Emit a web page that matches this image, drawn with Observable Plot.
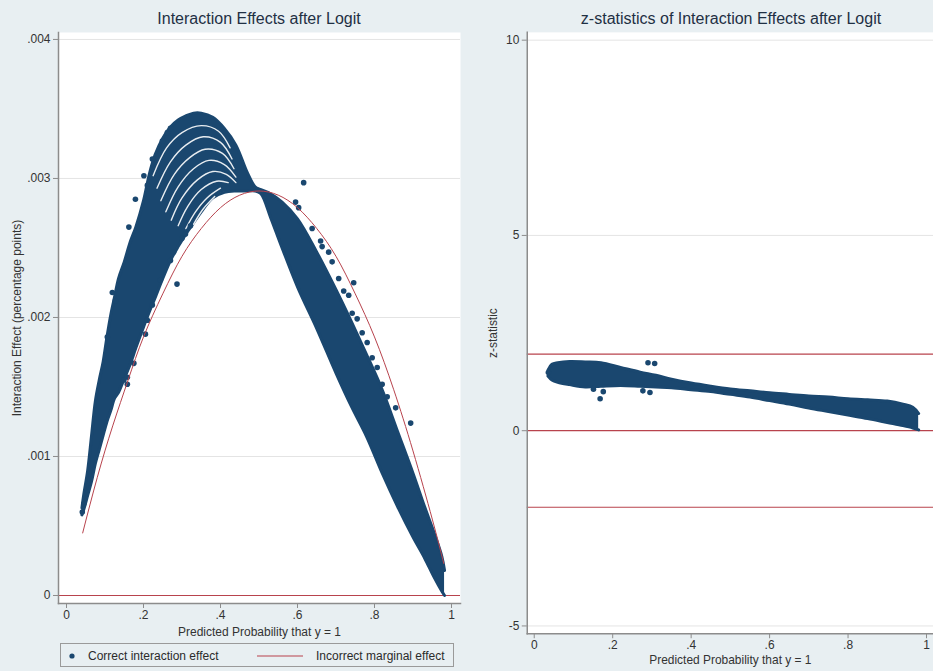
<!DOCTYPE html>
<html><head><meta charset="utf-8">
<script src="https://cdn.jsdelivr.net/npm/d3@7"></script>
<script src="https://cdn.jsdelivr.net/npm/@observablehq/plot@0.6"></script>
<style>
html,body{margin:0;padding:0}
body{width:933px;height:671px;overflow:hidden;background:#e8eff2;font-family:"Liberation Sans",Arial,sans-serif;position:relative;color:#2b2b2b}
.abs{position:absolute}
.title{font-size:16px;color:#1f3044;white-space:nowrap;transform:translateX(-50%)}
.legend{left:60px;top:643px;width:394px;height:24px;border:1px solid #9a9a9a;box-sizing:border-box;font-size:12px}
.legend span{position:absolute;top:5px;white-space:nowrap}
</style></head><body>
<div id="left" class="abs" style="left:0;top:0"></div>
<div id="right" class="abs" style="left:470px;top:0"></div>
<div class="abs title" style="left:259px;top:10px">Interaction Effects after Logit</div>
<div class="abs title" style="left:731px;top:10px">z-statistics of Interaction Effects after Logit</div>
<div class="abs legend">
  <svg class="abs" style="left:0;top:0" width="394" height="24">
    <circle cx="11" cy="12" r="2.6" fill="#1a476f"></circle>
    <line x1="196" x2="242" y1="12" y2="12" stroke="#b8434d" stroke-width="1.2"></line>
  </svg>
  <span style="left:27px">Correct interaction effect</span>
  <span style="left:255px">Incorrect marginal effect</span>
</div>
<script>
// ---------- Left panel: interaction effect (values in thousandths) ----------
const bandLX  = [0.040,0.045,0.055,0.065,0.075,0.085,0.095,0.105,0.115,0.125,0.135,0.150,0.165,0.180,0.200,0.215,0.230,0.250,0.270,0.290,0.310,0.330,0.350,0.380,0.410,0.440,0.470,0.490,0.505,0.530,0.560,0.600,0.650,0.700,0.740,0.780,0.820,0.860,0.900,0.930,0.955,0.975,0.982];
const bandLLo = [0.58,0.62,0.72,0.82,0.95,1.05,1.15,1.25,1.33,1.42,1.46,1.56,1.66,1.78,1.93,2.04,2.14,2.28,2.41,2.51,2.60,2.68,2.76,2.86,2.90,2.91,2.91,2.91,2.89,2.72,2.50,2.22,1.92,1.60,1.36,1.14,0.88,0.64,0.42,0.27,0.13,0.03,0.00];
const bandLHi = [0.63,0.73,0.90,1.15,1.40,1.55,1.68,1.86,2.02,2.15,2.28,2.40,2.54,2.65,2.84,3.03,3.17,3.29,3.37,3.42,3.45,3.47,3.47,3.44,3.36,3.24,3.04,2.94,2.92,2.89,2.83,2.71,2.47,2.20,1.97,1.73,1.48,1.18,0.88,0.64,0.45,0.28,0.18];
// white gaps between the stacked arcs of points near the peak
const arcId = [1,1,1,1,1,1, 2,2,2,2,2,2, 3,3,3,3,3,3, 4,4,4,4,4,4, 5,5,5,5,5,5, 6,6,6,6,6, 7,7,7,7, 8,8,8];
const arcX  = [0.225,0.26,0.30,0.35,0.395,0.425, 0.235,0.27,0.31,0.355,0.40,0.43, 0.245,0.28,0.32,0.36,0.405,0.435, 0.258,0.29,0.33,0.37,0.41,0.44, 0.272,0.30,0.34,0.38,0.415,0.44, 0.29,0.315,0.35,0.39,0.42, 0.31,0.335,0.365,0.40, 0.33,0.355,0.385];
const arcY  = [3.02,3.22,3.33,3.38,3.34,3.22, 2.93,3.12,3.24,3.30,3.26,3.14, 2.84,3.03,3.15,3.21,3.18,3.07, 2.76,2.94,3.07,3.13,3.10,3.01, 2.70,2.86,2.99,3.05,3.03,2.97, 2.66,2.80,2.92,2.98,2.97, 2.64,2.76,2.86,2.93, 2.67,2.78,2.87];
const outLX = [0.616,0.746,0.595,0.603,0.638,0.660,0.664,0.681,0.690,0.707,0.720,0.733,0.742,0.755,0.768,0.781,0.794,0.807,0.820,0.833,0.855,0.894,
               0.287,0.179,0.162,0.201,0.223,0.210,0.249,0.262,0.270,0.119,0.106,0.127,0.205,0.210,0.175,0.158,0.223,0.244,0.270,0.278,0.300,0.309,0.322,0.149,0.158,0.041,0.045];
const outLY = [2.97,2.25,2.83,2.79,2.64,2.55,2.51,2.47,2.40,2.28,2.19,2.16,2.03,1.99,1.89,1.82,1.71,1.64,1.52,1.43,1.35,1.24,
               2.24,2.85,2.65,3.02,3.14,2.95,3.27,3.33,3.36,2.18,1.86,2.12,1.88,1.98,1.67,1.57,2.09,2.27,2.41,2.47,2.57,2.60,2.66,1.55,1.52,0.60,0.66];
const margX = [0.042,0.08,0.12,0.16,0.20,0.25,0.30,0.35,0.40,0.45,0.50,0.55,0.60,0.65,0.70,0.75,0.80,0.85,0.90,0.95,0.98];
const margY = [0.45,0.85,1.22,1.55,1.86,2.17,2.44,2.64,2.79,2.88,2.91,2.88,2.79,2.64,2.44,2.17,1.86,1.48,1.04,0.55,0.23];
const leftYTicks = [0, 0.001, 0.002, 0.003, 0.004];
const xTicks = [0, 0.2, 0.4, 0.6, 0.8, 1];

// ---------- Right panel: z-statistics ----------
const bandRX  = [0.035,0.045,0.06,0.09,0.13,0.17,0.22,0.27,0.31,0.35,0.40,0.45,0.50,0.55,0.60,0.65,0.70,0.75,0.80,0.85,0.90,0.94,0.965,0.98];
const bandRLo = [1.40,1.30,1.24,1.18,1.12,1.14,1.16,1.14,1.12,1.10,1.05,1.00,0.93,0.86,0.77,0.68,0.58,0.49,0.40,0.31,0.21,0.13,0.07,0.02];
const bandRHi = [1.55,1.70,1.74,1.77,1.76,1.74,1.62,1.50,1.42,1.32,1.22,1.14,1.07,1.02,0.97,0.93,0.89,0.86,0.82,0.79,0.76,0.68,0.60,0.44];
const outRX = [0.290,0.307,0.168,0.176,0.151,0.277,0.295,0.036];
const outRY = [1.74,1.72,0.82,1.00,1.06,1.02,0.98,1.49];
const refLines = [-1.96, 0, 1.96];
const rightYTicks = [-5, 0, 5, 10];

const navy = "#1a476f", red = "#b8434d", axisCol = "#8c8c8c", txt = "#333";
const fmtL = d => d === 0 ? "0" : d3.format(".3f")(d).replace(/^0/, "");
const fmtX = d => d === 0 ? "0" : d === 1 ? "1" : d3.format(".1f")(d).replace(/^0/, "");

const bandL = bandLX.map((x, i) => ({x, lo: bandLLo[i] / 1000, hi: bandLHi[i] / 1000}));
const arcs = arcX.map((x, i) => ({id: arcId[i], x, y: arcY[i] / 1000}));
const outL = outLX.map((x, i) => ({x, y: outLY[i] / 1000}));
const marg = margX.map((x, i) => ({x, y: margY[i] / 1000}));

const left = Plot.plot({
  width: 466, height: 640,
  marginLeft: 58, marginRight: 6, marginTop: 32, marginBottom: 37,
  style: {background: "transparent", fontFamily: "Liberation Sans, Arial, sans-serif", fontSize: "12px", color: txt},
  x: {domain: [-0.0208, 1.0234]},
  y: {domain: [-0.0000576, 0.00405]},
  marks: [
    Plot.frame({fill: "white", stroke: null}),
    Plot.gridY(leftYTicks.filter(d => d > 0), {stroke: "#e4e4e4", strokeOpacity: 1}),
    Plot.ruleY([0], {stroke: red, strokeWidth: 1.2}),
    Plot.areaY(bandL, {x: "x", y1: "lo", y2: "hi", fill: navy, curve: "catmull-rom"}),
    Plot.line(bandL, {x: "x", y: "lo", stroke: navy, strokeWidth: 3, curve: "catmull-rom"}),
    Plot.line(bandL, {x: "x", y: "hi", stroke: navy, strokeWidth: 3, curve: "catmull-rom"}),
    Plot.line(arcs, {x: "x", y: "y", z: "id", stroke: "white", strokeWidth: 1.4, strokeOpacity: 0.9, curve: "catmull-rom",
                     strokeDasharray: d => d.id > 5 ? "6,3" : null}),
    Plot.dot(outL, {x: "x", y: "y", r: 2.8, fill: navy}),
    Plot.line(marg, {x: "x", y: "y", stroke: red, strokeWidth: 1, curve: "natural"}),
    Plot.frame({anchor: "left", stroke: axisCol, strokeWidth: 1.5}),
    Plot.frame({anchor: "bottom", stroke: axisCol, strokeWidth: 1.5}),
    Plot.axisY({ticks: leftYTicks, tickFormat: fmtL, tickSize: 5, tickPadding: 3, stroke: axisCol, label: null}),
    Plot.axisX({ticks: xTicks, tickFormat: fmtX, tickSize: 5, tickPadding: 2, stroke: axisCol, label: null}),
    Plot.text(["Interaction Effect (percentage points)"], {frameAnchor: "left", dx: -41, rotate: -90, textAnchor: "middle", lineAnchor: "middle", fontSize: 12, fill: txt}),
    Plot.text(["Predicted Probability that y = 1"], {frameAnchor: "bottom", dy: 29, textAnchor: "middle", lineAnchor: "middle", fontSize: 12, fill: txt})
  ]
});
document.getElementById("left").append(left);

const bandR = bandRX.map((x, i) => ({x, lo: bandRLo[i], hi: bandRHi[i]}));
const outR = outRX.map((x, i) => ({x, y: outRY[i]}));

const right = Plot.plot({
  width: 465, height: 671,
  marginLeft: 57, marginRight: 0, marginTop: 32, marginBottom: 35,
  style: {background: "transparent", fontFamily: "Liberation Sans, Arial, sans-serif", fontSize: "12px", color: txt},
  x: {domain: [-0.0178, 1.0178]},
  y: {domain: [-5.20, 10.20]},
  marks: [
    Plot.frame({fill: "white", stroke: null}),
    Plot.gridY(rightYTicks.filter(d => d !== 0), {stroke: "#e4e4e4", strokeOpacity: 1}),
    Plot.ruleY(refLines, {stroke: red, strokeWidth: 1.2}),
    Plot.areaY(bandR, {x: "x", y1: "lo", y2: "hi", fill: navy, curve: "catmull-rom"}),
    Plot.line(bandR, {x: "x", y: "lo", stroke: navy, strokeWidth: 3, curve: "catmull-rom"}),
    Plot.line(bandR, {x: "x", y: "hi", stroke: navy, strokeWidth: 3, curve: "catmull-rom"}),
    Plot.dot(outR, {x: "x", y: "y", r: 2.8, fill: navy}),
    Plot.frame({anchor: "left", stroke: axisCol, strokeWidth: 1.5}),
    Plot.frame({anchor: "bottom", stroke: axisCol, strokeWidth: 1.5}),
    Plot.axisY({ticks: rightYTicks, tickFormat: d => String(d), tickSize: 5, tickPadding: 3, stroke: axisCol, label: null}),
    Plot.axisX({ticks: xTicks, tickFormat: fmtX, tickSize: 5, tickPadding: 2, stroke: axisCol, label: null}),
    Plot.text(["z-statistic"], {frameAnchor: "left", dx: -34, rotate: -90, textAnchor: "middle", lineAnchor: "middle", fontSize: 12, fill: txt}),
    Plot.text(["Predicted Probability that y = 1"], {frameAnchor: "bottom", dy: 27, textAnchor: "middle", lineAnchor: "middle", fontSize: 12, fill: txt})
  ]
});
document.getElementById("right").append(right);
</script>
</body></html>
